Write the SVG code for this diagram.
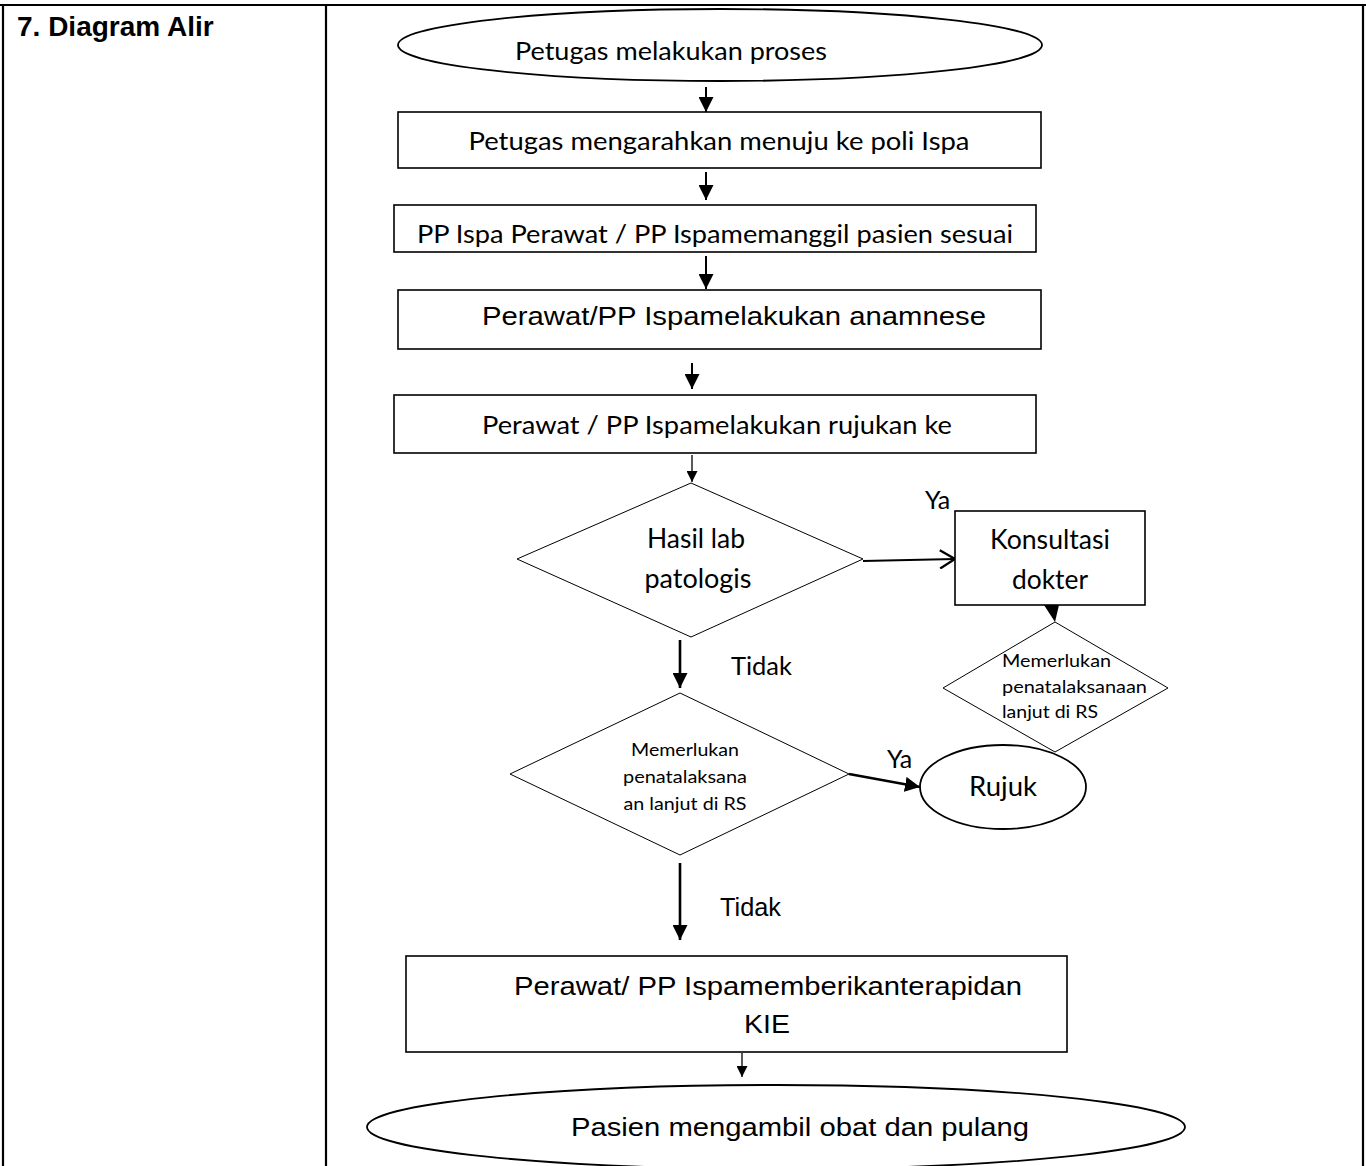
<svg xmlns="http://www.w3.org/2000/svg" width="1366" height="1166" viewBox="0 0 1366 1166">
<style>
.bg{fill:#fff}
.tbl{stroke:#000;stroke-width:2.2;fill:none}
.box{fill:#fff;stroke:#000;stroke-width:1.6}
.dia{fill:#fff;stroke:#000;stroke-width:1}
.ell{fill:#fff;stroke:#000;stroke-width:1.8}
.cal{font-family:Lato,"Open Sans","Noto Sans",sans-serif;fill:#000}
.ari{font-family:"Liberation Sans",Arial,sans-serif;fill:#000}
.c{text-anchor:middle}
.con{stroke:#000;fill:none}
</style>
<defs>
<marker id="ah" viewBox="0 0 10 10" refX="10" refY="5" markerWidth="15" markerHeight="15" markerUnits="userSpaceOnUse" orient="auto"><path d="M0,0 L10,5 L0,10 z" fill="#000"/></marker>
<marker id="ahs" viewBox="0 0 10 10" refX="10" refY="5" markerWidth="11" markerHeight="11" markerUnits="userSpaceOnUse" orient="auto"><path d="M0,0 L10,5 L0,10 z" fill="#000"/></marker>
<marker id="aho" viewBox="0 0 10 12" refX="9.5" refY="6" markerWidth="18" markerHeight="20" markerUnits="userSpaceOnUse" orient="auto"><path d="M0.5,0.5 L9.5,6 L0.5,11.5" fill="none" stroke="#000" stroke-width="1.4"/></marker>
<clipPath id="clipE1"><rect x="380" y="0" width="700" height="64"/></clipPath>
<clipPath id="clipD2"><rect x="940" y="600" width="240" height="121"/></clipPath>
</defs>
<rect class="bg" x="0" y="0" width="1366" height="1166"/>
<g id="table">
<path class="tbl" d="M0 5H1366 M3 5V1166 M326 5V1166 M1363 5V1166"/>
<text x="17" y="36" font-family="Liberation Sans, Arial, sans-serif" font-weight="bold" font-size="28">7. Diagram Alir</text>
</g>
<g id="connectors">
<line class="con" stroke-width="2" x1="706" y1="87" x2="706" y2="112" marker-end="url(#ah)"/>
<line class="con" stroke-width="2" x1="706" y1="172" x2="706" y2="200" marker-end="url(#ah)"/>
<line class="con" stroke-width="2" x1="706" y1="256" x2="706" y2="289" marker-end="url(#ah)"/>
<line class="con" stroke-width="2" x1="692" y1="363" x2="692" y2="389" marker-end="url(#ah)"/>
<line class="con" stroke-width="1.3" x1="692" y1="455" x2="692" y2="482" marker-end="url(#ahs)"/>
<line class="con" stroke-width="2.6" x1="680" y1="640" x2="680" y2="688" marker-end="url(#ah)"/>
<line class="con" stroke-width="2.2" x1="863" y1="561" x2="955" y2="559" marker-end="url(#aho)"/>
<path d="M1044 605 L1059 605 L1055 622 Z" fill="#000"/>
<line class="con" stroke-width="2.6" x1="849" y1="774" x2="920" y2="787" marker-end="url(#ah)"/>
<line class="con" stroke-width="2.6" x1="680" y1="863" x2="680" y2="940" marker-end="url(#ah)"/>
<line class="con" stroke-width="1.3" x1="742" y1="1053" x2="742" y2="1077" marker-end="url(#ahs)"/>
<text class="cal" x="925" y="509" font-size="25">Ya</text>
<text class="cal" x="731" y="675" font-size="25" textLength="61" lengthAdjust="spacingAndGlyphs">Tidak</text>
<text class="cal" x="887" y="768" font-size="25">Ya</text>
<text class="ari" x="720" y="916" font-size="26" textLength="61" lengthAdjust="spacingAndGlyphs">Tidak</text>
</g>
<g id="n1">
<ellipse class="ell" cx="720" cy="45" rx="322" ry="36"/>
<text class="cal c" x="671" y="60" font-size="25" textLength="312" lengthAdjust="spacingAndGlyphs" clip-path="url(#clipE1)">Petugas melakukan proses</text>
</g>
<g id="n2">
<rect class="box" x="398" y="112" width="643" height="56"/>
<text class="cal c" x="719" y="150" font-size="25" textLength="501" lengthAdjust="spacingAndGlyphs">Petugas mengarahkan menuju ke poli Ispa</text>
</g>
<g id="n3">
<rect class="box" x="394" y="205" width="642" height="47"/>
<text class="cal c" x="715" y="243" font-size="25" textLength="596" lengthAdjust="spacingAndGlyphs">PP Ispa Perawat / PP Ispamemanggil pasien sesuai</text>
</g>
<g id="n4">
<rect class="box" x="398" y="290" width="643" height="59"/>
<text class="ari c" x="734" y="325" font-size="26" textLength="504" lengthAdjust="spacingAndGlyphs">Perawat/PP Ispamelakukan anamnese</text>
</g>
<g id="n5">
<rect class="box" x="394" y="395" width="642" height="58"/>
<text class="cal c" x="717" y="434" font-size="25" textLength="470" lengthAdjust="spacingAndGlyphs">Perawat / PP Ispamelakukan rujukan ke</text>
</g>
<g id="n6">
<polygon class="dia" points="691,483 863,559 691,637 517,559"/>
<text class="cal c" x="696" y="548" font-size="26" textLength="98" lengthAdjust="spacingAndGlyphs">Hasil lab</text>
<text class="cal c" x="698" y="588" font-size="26" textLength="107" lengthAdjust="spacingAndGlyphs">patologis</text>
</g>
<g id="n7">
<rect class="box" x="955" y="511" width="190" height="94"/>
<text class="cal c" x="1050" y="549" font-size="26" textLength="120" lengthAdjust="spacingAndGlyphs">Konsultasi</text>
<text class="cal c" x="1050" y="589" font-size="26" textLength="76" lengthAdjust="spacingAndGlyphs">dokter</text>
</g>
<g id="n8">
<polygon class="dia" points="1055,622 1168,688 1055,752 943,688"/>
<g clip-path="url(#clipD2)">
<text class="cal" x="1002" y="667" font-size="18" textLength="109" lengthAdjust="spacingAndGlyphs">Memerlukan</text>
<text class="cal" x="1002" y="693" font-size="18" textLength="145" lengthAdjust="spacingAndGlyphs">penatalaksanaan</text>
<text class="cal" x="1002" y="718" font-size="18" textLength="96" lengthAdjust="spacingAndGlyphs">lanjut di RS</text>
</g>
</g>
<g id="n9">
<ellipse class="ell" cx="1003" cy="787" rx="83" ry="42"/>
<text class="cal c" x="1003" y="796" font-size="26" textLength="68" lengthAdjust="spacingAndGlyphs">Rujuk</text>
</g>
<g id="n10">
<polygon class="dia" points="680,693 849,774 680,855 510,774"/>
<text class="cal c" x="685" y="756" font-size="18" textLength="108" lengthAdjust="spacingAndGlyphs">Memerlukan</text>
<text class="cal c" x="685" y="783" font-size="18" textLength="124" lengthAdjust="spacingAndGlyphs">penatalaksana</text>
<text class="cal c" x="685" y="810" font-size="18" textLength="123" lengthAdjust="spacingAndGlyphs">an lanjut di RS</text>
</g>
<g id="n11">
<rect class="box" x="406" y="956" width="661" height="96"/>
<text class="ari c" x="768" y="995" font-size="26" textLength="508" lengthAdjust="spacingAndGlyphs">Perawat/ PP Ispamemberikanterapidan</text>
<text class="ari c" x="767" y="1033" font-size="26" textLength="46" lengthAdjust="spacingAndGlyphs">KIE</text>
</g>
<g id="n12">
<ellipse class="ell" cx="776" cy="1127" rx="409" ry="42"/>
<text class="ari c" x="800" y="1136" font-size="26" textLength="458" lengthAdjust="spacingAndGlyphs">Pasien mengambil obat dan pulang</text>
</g>
</svg>
